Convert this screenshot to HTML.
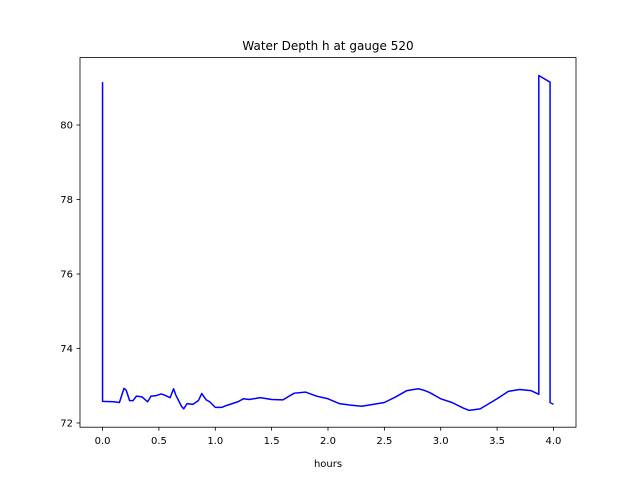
<!DOCTYPE html>
<html><head><meta charset="utf-8"><style>body{margin:0;background:#fff}svg{display:block;font-family:"DejaVu Sans","Liberation Sans",sans-serif}</style></head>
<body>
<svg id="c" width="640" height="480"></svg>
<script>
const xs=[0,0,0.1,0.15,0.19,0.21,0.24,0.27,0.3,0.35,0.4,0.43,0.47,0.52,0.55,0.6,0.63,0.65,0.7,0.72,0.75,0.8,0.85,0.88,0.92,0.95,1.0,1.06,1.1,1.2,1.25,1.3,1.4,1.5,1.6,1.7,1.8,1.9,2.0,2.1,2.2,2.3,2.4,2.5,2.6,2.7,2.8,2.85,2.9,3.0,3.1,3.2,3.25,3.35,3.5,3.6,3.7,3.8,3.87,3.87,3.97,3.97,4.0];
const ys=[81.15,72.58,72.57,72.55,72.93,72.88,72.6,72.6,72.72,72.7,72.57,72.72,72.73,72.78,72.75,72.68,72.92,72.75,72.45,72.38,72.52,72.5,72.6,72.79,72.62,72.57,72.42,72.42,72.47,72.57,72.65,72.63,72.68,72.63,72.62,72.8,72.83,72.72,72.65,72.52,72.48,72.45,72.5,72.55,72.7,72.87,72.92,72.88,72.82,72.65,72.55,72.4,72.34,72.38,72.65,72.85,72.9,72.87,72.77,81.33,81.15,72.55,72.5];
const xTicks=[0,0.5,1,1.5,2,2.5,3,3.5,4];
const xTickLabels=["0.0","0.5","1.0","1.5","2.0","2.5","3.0","3.5","4.0"];
const yTicks=[72,74,76,78,80];
const yTickLabels=["72","74","76","78","80"];
const L=80,R=576,T=57.6,B=427.2;
const xmin=-0.2,xmax=4.2,ymin=71.887,ymax=81.81;
const sx=v=>L+(v-xmin)/(xmax-xmin)*(R-L);
const sy=v=>B-(v-ymin)/(ymax-ymin)*(B-T);
const svg=document.getElementById('c');const NS='http://www.w3.org/2000/svg';
function mk(t,a,txt){const e=document.createElementNS(NS,t);for(const k in a)e.setAttribute(k,a[k]);if(txt!=null)e.textContent=txt;svg.appendChild(e);return e;}
let d=xs.map((x,i)=>(i?'L':'M')+sx(x).toFixed(2)+','+sy(ys[i]).toFixed(2)).join('');
let p=mk('path',{d:d,fill:'none',stroke:'#0000ff','stroke-width':1.5,'stroke-linejoin':'round'});


let f=mk('rect',{x:L,y:T,width:R-L,height:B-T,fill:'none',stroke:'#000','stroke-width':0.8});


xTicks.forEach((v,i)=>{const x=sx(v);
const t=mk('line',{x1:x,x2:x,y1:B,y2:B+3.5,stroke:'#000','stroke-width':0.8});


const l=mk('text',{x:x,y:B+17,'font-size':10,'text-anchor':'middle'},xTickLabels[i]);

});
yTicks.forEach((v,i)=>{const y=sy(v);
const t=mk('line',{x1:L-3.5,x2:L,y1:y,y2:y,stroke:'#000','stroke-width':0.8});


const l=mk('text',{x:L-7,y:y+3.5,'font-size':10,'text-anchor':'end'},yTickLabels[i]);

});
const xl=mk('text',{x:(L+R)/2,y:467,'font-size':10,'text-anchor':'middle'},'hours');


const ti=mk('text',{x:(L+R)/2,y:50,'font-size':12,'text-anchor':'middle'},'Water Depth h at gauge 520');


</script>
</body></html>
